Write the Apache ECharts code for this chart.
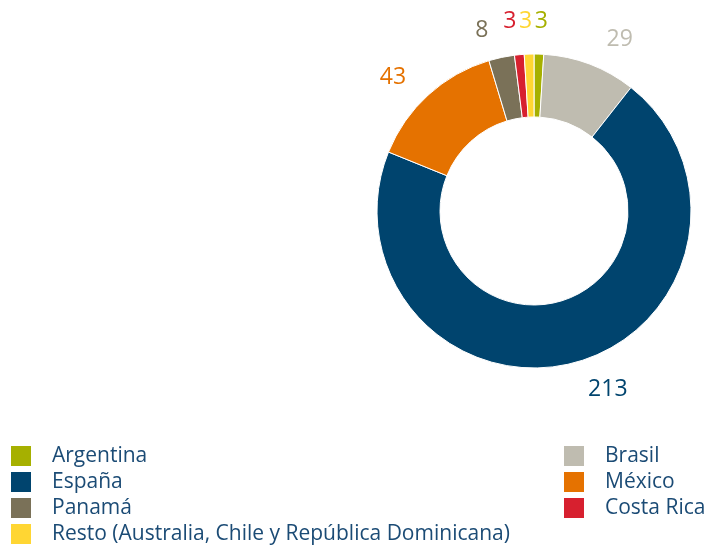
<!DOCTYPE html>
<html>
<head>
<meta charset="utf-8">
<script src="https://cdn.jsdelivr.net/npm/echarts@6/dist/echarts.min.js"></script>
<style>
  html, body { margin: 0; padding: 0; background: #fff; }
  #chart { width: 708px; height: 547px; }
</style>
</head>
<body>
<div id="chart"></div>
<script>
// datos: orden de las porciones, en sentido horario desde arriba
const paises = ['Argentina', 'Brasil', 'España', 'México', 'Panamá', 'Costa Rica',
  'Resto (Australia, Chile y República Dominicana)'];
const valores = [3, 29, 213, 43, 8, 3, 3];
const colores = ['#a6b000', '#bfbcb0', '#00446e', '#e57200', '#7a7158', '#d7202f', '#ffd633'];

const leyendaIzq = ['Argentina', 'España', 'Panamá', 'Resto (Australia, Chile y República Dominicana)'];
const leyendaDer = ['Brasil', 'México', 'Costa Rica'];

// ajuste fino de las etiquetas (px), mismo orden que paises
const ajusteEtiqueta = [[-5, -3], [6, 3], [6, -2], [-2, 5], [-7, 2], [0, -3], [4, -3]];

const textoColor = '#1b4b75';
const fuente = '"Open Sans", "Noto Sans", sans-serif';

const chart = echarts.init(document.getElementById('chart'));

function leyenda(nombres, x) {
  return {
    data: nombres,
    orient: 'vertical',
    left: x,
    top: 444,
    height: 300,
    padding: 0,
    itemWidth: 22,
    itemHeight: 22,
    itemGap: 2,
    icon: 'rect',
    selectedMode: false,
    textStyle: {
      color: textoColor,
      fontSize: 21,
      fontFamily: fuente,
      padding: [0, 0, 0, 15]
    }
  };
}

chart.setOption({
  animation: false,
  color: colores,
  legend: [leyenda(leyendaIzq, 9), leyenda(leyendaDer, 562)],
  series: [{
    type: 'pie',
    center: [534, 211],
    radius: [94, 157],
    startAngle: 90,
    clockwise: true,
    avoidLabelOverlap: false,
    itemStyle: { borderColor: '#fff', borderWidth: 1 },
    label: {
      show: true,
      position: 'outside',
      formatter: '{c}',
      fontSize: 23,
      fontFamily: fuente,
      distanceToLabelLine: 0
    },
    labelLine: { show: false, length: 30, length2: 0 },
    labelLayout: { hideOverlap: false },
    emphasis: { disabled: true },
    data: paises.map((p, i) => ({
      name: p,
      value: valores[i],
      label: { color: colores[i], offset: ajusteEtiqueta[i] }
    }))
  }]
});
</script>
</body>
</html>
